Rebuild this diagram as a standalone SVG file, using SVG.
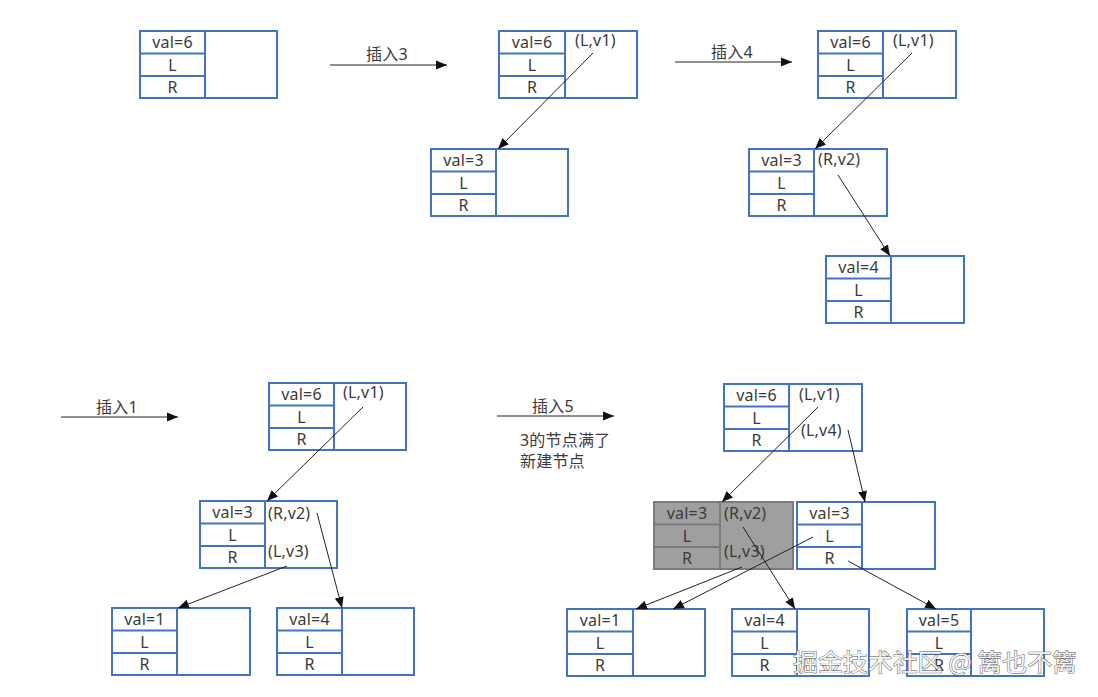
<svg xmlns="http://www.w3.org/2000/svg" width="1098" height="697" viewBox="0 0 1098 697">
<style>
.box{fill:#fff;stroke:#4472C4;stroke-width:2}
.ln{stroke:#4472C4;stroke-width:2;fill:none}
.gbox{fill:#9f9f9f;stroke:#7b7b7b;stroke-width:2}
.gln{stroke:#7b7b7b;stroke-width:2;fill:none}
.t{font-family:"Noto Sans","Noto Sans CJK SC",sans-serif;font-size:16px;fill:#3a3a3a;letter-spacing:0.2px}
.c{text-anchor:middle}
.e{stroke:#222;stroke-width:1;fill:none;marker-end:url(#ah)}
.wm{font-family:"Noto Sans CJK SC","Noto Sans",sans-serif;font-size:24px;fill:#f4f4f4;stroke:#555;stroke-width:0.9;paint-order:stroke}
</style>
<defs>
<marker id="ah" markerUnits="userSpaceOnUse" markerWidth="12" markerHeight="10" refX="11" refY="5" orient="auto">
<path d="M0,0.5 L11,5 L0,9.5 Z" fill="#111"/>
</marker>
</defs>
<rect width="1098" height="697" fill="#fff"/>

<g class="t">
<text class="c" x="387" y="60">插入3</text>
<text class="c" x="732" y="58">插入4</text>
<text class="c" x="117" y="413">插入1</text>
<text class="c" x="553" y="412">插入5</text>
<text x="520" y="446">3的节点满了</text>
<text x="520" y="467">新建节点</text>
</g>

<g id="nA">
<rect class="box" x="140" y="31" width="137" height="67"/>
<path class="ln" d="M205,31V98M140,53.5H205M140,76H205"/>
<text class="t c" x="172.5" y="48">val=6</text><text class="t c" x="172.5" y="70.5">L</text><text class="t c" x="172.5" y="93">R</text>
</g>
<g id="nB">
<rect class="box" x="499" y="31" width="138" height="67"/>
<path class="ln" d="M565,31V98M499,53.5H565M499,76H565"/>
<text class="t c" x="532" y="48">val=6</text><text class="t c" x="532" y="70.5">L</text><text class="t c" x="532" y="93">R</text>
<text class="t" x="575" y="46">(L,v1)</text>
</g>
<g id="nC">
<rect class="box" x="431" y="149" width="137" height="67"/>
<path class="ln" d="M496,149V216M431,171.5H496M431,194H496"/>
<text class="t c" x="463.5" y="166">val=3</text><text class="t c" x="463.5" y="188.5">L</text><text class="t c" x="463.5" y="211">R</text>
</g>
<g id="nD">
<rect class="box" x="818" y="31" width="138" height="67"/>
<path class="ln" d="M883,31V98M818,53.5H883M818,76H883"/>
<text class="t c" x="850.5" y="48">val=6</text><text class="t c" x="850.5" y="70.5">L</text><text class="t c" x="850.5" y="93">R</text>
<text class="t" x="893" y="46">(L,v1)</text>
</g>
<g id="nE">
<rect class="box" x="749" y="149" width="138" height="67"/>
<path class="ln" d="M814,149V216M749,171.5H814M749,194H814"/>
<text class="t c" x="781.5" y="166">val=3</text><text class="t c" x="781.5" y="188.5">L</text><text class="t c" x="781.5" y="211">R</text>
<text class="t" x="818" y="165">(R,v2)</text>
</g>
<g id="nF">
<rect class="box" x="826" y="256" width="138" height="67"/>
<path class="ln" d="M891,256V323M826,278.5H891M826,301H891"/>
<text class="t c" x="858.5" y="273">val=4</text><text class="t c" x="858.5" y="295.5">L</text><text class="t c" x="858.5" y="318">R</text>
</g>
<g id="nG">
<rect class="box" x="269" y="383" width="137" height="67"/>
<path class="ln" d="M334,383V450M269,405.5H334M269,428H334"/>
<text class="t c" x="301.5" y="400">val=6</text><text class="t c" x="301.5" y="422.5">L</text><text class="t c" x="301.5" y="445">R</text>
<text class="t" x="343" y="398">(L,v1)</text>
</g>
<g id="nH">
<rect class="box" x="200" y="501" width="137" height="67"/>
<path class="ln" d="M265,501V568M200,523.5H265M200,546H265"/>
<text class="t c" x="232.5" y="518">val=3</text><text class="t c" x="232.5" y="540.5">L</text><text class="t c" x="232.5" y="563">R</text>
<text class="t" x="268" y="519">(R,v2)</text>
<text class="t" x="268" y="557">(L,v3)</text>
</g>
<g id="nI">
<rect class="box" x="112" y="608" width="138" height="67"/>
<path class="ln" d="M177,608V675M112,630.5H177M112,653H177"/>
<text class="t c" x="144.5" y="625">val=1</text><text class="t c" x="144.5" y="647.5">L</text><text class="t c" x="144.5" y="670">R</text>
</g>
<g id="nJ">
<rect class="box" x="277" y="608" width="137" height="67"/>
<path class="ln" d="M342,608V675M277,630.5H342M277,653H342"/>
<text class="t c" x="309.5" y="625">val=4</text><text class="t c" x="309.5" y="647.5">L</text><text class="t c" x="309.5" y="670">R</text>
</g>
<g id="nK">
<rect class="box" x="724" y="384" width="138" height="67"/>
<path class="ln" d="M789,384V451M724,406.5H789M724,429H789"/>
<text class="t c" x="756.5" y="401">val=6</text><text class="t c" x="756.5" y="423.5">L</text><text class="t c" x="756.5" y="446">R</text>
<text class="t" x="799" y="400">(L,v1)</text>
<text class="t" x="801" y="436">(L,v4)</text>
</g>
<g id="nL">
<rect class="gbox" x="654" y="502" width="139" height="67"/>
<path class="gln" d="M720,502V569M654,524.5H720M654,547H720"/>
<text class="t c" x="687" y="519">val=3</text><text class="t c" x="687" y="541.5">L</text><text class="t c" x="687" y="564">R</text>
<text class="t" x="724" y="519">(R,v2)</text>
<text class="t" x="724" y="557">(L,v3)</text>
</g>
<g id="nM">
<rect class="box" x="797" y="502" width="138" height="67"/>
<path class="ln" d="M862,502V569M797,524.5H862M797,547H862"/>
<text class="t c" x="829.5" y="519">val=3</text><text class="t c" x="829.5" y="541.5">L</text><text class="t c" x="829.5" y="564">R</text>
</g>
<g id="nN">
<rect class="box" x="567" y="609" width="138" height="67"/>
<path class="ln" d="M633,609V676M567,631.5H633M567,654H633"/>
<text class="t c" x="600" y="626">val=1</text><text class="t c" x="600" y="648.5">L</text><text class="t c" x="600" y="671">R</text>
</g>
<g id="nO">
<rect class="box" x="732" y="609" width="137" height="67"/>
<path class="ln" d="M797,609V676M732,631.5H797M732,654H797"/>
<text class="t c" x="764.5" y="626">val=4</text><text class="t c" x="764.5" y="648.5">L</text><text class="t c" x="764.5" y="671">R</text>
</g>
<g id="nP">
<rect class="box" x="907" y="609" width="137" height="67"/>
<path class="ln" d="M971,609V676M907,631.5H971M907,654H971"/>
<text class="t c" x="939" y="626">val=5</text><text class="t c" x="939" y="648.5">L</text><text class="t c" x="939" y="671">R</text>
</g>

<g id="connectors">
<line class="e" x1="330" y1="65" x2="447" y2="65"/>
<line class="e" x1="675" y1="62" x2="792" y2="62"/>
<line class="e" x1="61" y1="417" x2="178" y2="417"/>
<line class="e" x1="497" y1="416" x2="614" y2="416"/>
<line class="e" x1="593" y1="53" x2="498" y2="149"/>
<line class="e" x1="912" y1="53" x2="815" y2="149"/>
<line class="e" x1="838" y1="175" x2="890" y2="256"/>
<line class="e" x1="363" y1="407" x2="267" y2="501"/>
<line class="e" x1="317" y1="513" x2="342" y2="608"/>
<line class="e" x1="287" y1="566" x2="178" y2="608"/>
<line class="e" x1="818" y1="407" x2="722" y2="502"/>
<line class="e" x1="848" y1="430" x2="865" y2="502"/>
<line class="e" x1="742" y1="567" x2="636" y2="609"/>
<line class="e" x1="813" y1="537" x2="673" y2="609"/>
<line class="e" x1="743" y1="527" x2="795" y2="609"/>
<line class="e" x1="848" y1="561" x2="936" y2="609"/>
</g>

<text class="wm" x="793" y="671" textLength="284" lengthAdjust="spacingAndGlyphs">掘金技术社区 @ 篱也不篱</text>
</svg>
